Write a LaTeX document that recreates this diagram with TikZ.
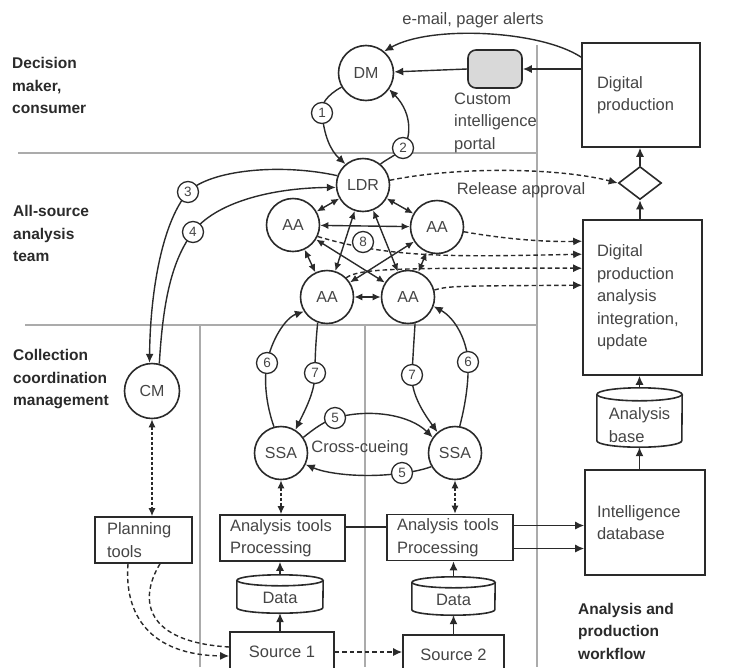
\documentclass[tikz,border=0pt]{standalone}
\usepackage{fontspec}
\setmainfont{Liberation Sans}
\usetikzlibrary{arrows.meta,shapes.geometric,calc}
\definecolor{ink}{HTML}{2A2A2A}
\definecolor{txt}{HTML}{454545}
\definecolor{sepc}{HTML}{ABABAB}
\definecolor{portalc}{HTML}{D9D9D9}
\pgfdeclarelayer{bg}
\pgfsetlayers{bg,main}
\newcommand{\mycyl}[6]{%
  \node[minimum width=#4pt, minimum height=#5pt, inner sep=0pt] (#1) at (#2,#3) {};
  \draw[cylline] ($(#1.north west)+(0,#6)$) -- ($(#1.south west)+(0,-#6)$)
     arc[start angle=180,end angle=0,x radius=#4/2,y radius=#6] -- ($(#1.north east)+(0,#6)$);
  \draw[cylline] ($(#1.north)+(0,#6)$) ellipse[x radius=#4/2, y radius=#6];
}
\begin{document}
\begin{tikzpicture}[x=1pt,y=-1pt,
  every node/.style={text=txt},
  big/.style={circle,draw=ink,fill=white,line width=1.6pt,minimum size=53pt,inner sep=0pt,font=\fontsize{16}{18}\selectfont},
  num/.style={circle,draw=ink,fill=white,line width=1.3pt,minimum size=21pt,inner sep=0pt,font=\fontsize{13.5}{15}\selectfont},
  boxn/.style={draw=ink,fill=white,line width=1.6pt,inner ysep=0pt,align=left,font=\fontsize{16.5}{22.5}\selectfont},
  txtn/.style={inner sep=0pt,align=left,font=\fontsize{16.5}{22.5}\selectfont},
  lbl/.style={anchor=west,inner sep=0pt,align=left,text=ink,font=\fontsize{15.5}{22.5}\selectfont\bfseries},
  cylline/.style={draw=ink,line width=1.6pt},
  sepline/.style={draw=sepc,line width=2.2pt},
  arr/.style={draw=ink,line width=1.4pt,-{Latex[length=9pt,width=8pt]}},
  darr/.style={draw=ink,line width=1.4pt,{Latex[length=8pt,width=7pt]}-{Latex[length=8pt,width=7pt]}},
  dsh/.style={dash pattern=on 4.5pt off 3pt},
  ddarr/.style={draw=ink,line width=1.3pt,dash pattern=on 3pt off 2pt,{Latex[length=8pt,width=7pt]}-{Latex[length=8pt,width=7pt]}}
]
\useasboundingbox (0,0) rectangle (730,667);
\clip (0,0) rectangle (730,667);

% left labels
\node[lbl] (Lb1) at (12,85.5) {Decision\\maker,\\consumer};
\node[lbl] (Lb2) at (13,233.5) {All-source\\analysis\\team};
\node[lbl] (Lb3) at (13,379.5) {Collection\\coordination\\management};
\node[lbl] (Lb4) at (578,631) {Analysis and\\production\\workflow};

% circles
\node[big,minimum size=55pt] (DM) at (366,73) {DM};
\node[big] (LDR) at (363,185) {LDR};
\node[big] (TL) at (293,225) {AA};
\node[big] (TR) at (437,227) {AA};
\node[big] (BL) at (327,297) {AA};
\node[big] (BR) at (408,297) {AA};
\node[big,minimum size=55pt] (CM) at (152,391) {CM};
\node[big] (SSAL) at (281,453) {SSA};
\node[big] (SSAR) at (455,453) {SSA};

% number circles
\node[num] (n1) at (322,113) {1};
\node[num] (n2) at (403,148) {2};
\node[num] (n3) at (188,192) {3};
\node[num] (n4) at (193,232) {4};
\node[num] (n5a) at (335,418) {5};
\node[num] (n5b) at (402,473) {5};
\node[num] (n6a) at (267,363) {6};
\node[num] (n6b) at (468,362) {6};
\node[num] (n7a) at (315,373) {7};
\node[num] (n7b) at (412,375) {7};
\node[num] (n8) at (363,242) {8};

% boxes
\node[boxn, text width=88pt, inner xsep=15pt, minimum height=104pt] (DP) at (641,95) {Digital\\production};
\node[boxn, text width=91pt, inner xsep=14pt, minimum height=155pt] (DPA) at (642.5,297.5) {Digital\\production\\analysis\\integration,\\update};
\node[boxn, text width=96pt, inner xsep=12pt, minimum height=105pt] (IDB) at (645,522.5) {Intelligence\\database};
\node[boxn, text width=105pt, inner xsep=10pt, minimum height=46pt] (AT1) at (282.5,538) {Analysis tools\\Processing};
\node[boxn, text width=106pt, inner xsep=10pt, minimum height=46pt] (AT2) at (450,537.5) {Analysis tools\\Processing};
\node[boxn, text width=73pt, inner xsep=12pt, minimum height=46pt] (PT) at (143.5,540) {Planning\\tools};
\node[boxn, minimum width=104pt, minimum height=40pt] (S1) at (282,652) {Source 1};
\node[boxn, minimum width=101pt, minimum height=40pt] (S2) at (453.5,655) {Source 2};
\node[draw=ink,fill=portalc,line width=1.6pt,rounded corners=8pt,minimum width=54pt,minimum height=38pt,inner sep=0pt] (P) at (495,69) {};
\node[diamond,draw=ink,fill=white,line width=1.6pt,minimum width=43pt,minimum height=33pt,inner sep=0pt] (D) at (640,183) {};

% cylinders
\mycyl{AB}{639.5}{417.5}{85}{59}{6.5}
\node[txtn] (ABt) at (639.5,425) {Analysis\\base};
\mycyl{D1}{280}{594}{86}{38}{5.5}
\node[txtn] (D1t) at (280,598) {Data};
\mycyl{D2}{453.5}{596}{83}{38}{5.5}
\node[txtn] (D2t) at (453.5,600) {Data};

% free texts
\node[txtn] (em) at (473,20) {e-mail, pager alerts};
\node[txtn] (ra) at (521,190) {Release approval};
\node[txtn] (cc) at (360,448) {Cross-cueing};
\node[txtn,anchor=west] (cip) at (454,122.5) {Custom\\intelligence\\portal};

\begin{pgfonlayer}{bg}
% separators
\draw[sepline] (18,153) -- (537,153);
\draw[sepline] (25,325) -- (537,325);
\draw[sepline] (537,45) -- (537,667);
\draw[sepline] (200,325) -- (200,667);
\draw[sepline] (365,325) -- (365,667);

% top
\draw[arr] ([yshift=-15pt]DP.north west) .. controls (540,30) and (430,25) .. (DM.50);
\draw[arr] (P.east -| DP.west) -- (P.east);
\draw[arr] (P.west) -- (DM);
\draw[arr] (DM.210) .. controls (327,95) and (320,105) .. (n1.center) .. controls (324,135) and (330,150) .. (LDR.130);
\draw[arr] (LDR.50) .. controls (385,160) and (397,155) .. (n2.center) .. controls (410,140) and (414,115) .. (DM.-35);
\draw[arr] (LDR.160) .. controls (280,163) and (210,170) .. (n3.center) .. controls (160,225) and (150,300) .. (CM.95);
\draw[arr] (CM.75) .. controls (163,300) and (172,260) .. (n4.center) .. controls (215,203) and (270,188) .. (LDR.185);
\draw[arr,dsh] (LDR.10) .. controls (460,166) and (560,168) .. (D.west);
\draw[arr] (D.south |- DPA.north) -- (D.south);
\draw[arr] (D.north) -- (D.north |- DP.south);

% cluster
\foreach \a/\b in {LDR/TL, LDR/TR, TL/TR, TL/BL, TR/BR, BL/BR, LDR/BL, LDR/BR, TL/BR, TR/BL}
  \draw[darr] (\a) -- (\b);

% dashed to DPA
\draw[arr,dsh] (TR.-10) .. controls (510,240) and (550,242) .. ([yshift=-22pt]DPA.north west);
\draw[arr,dsh] (TL.-25) .. controls (390,258) and (450,257) .. ([yshift=-35pt]DPA.north west);
\draw[arr,dsh] (BL.45) .. controls (360,268) and (400,268) .. ([yshift=-49pt]DPA.north west);
\draw[arr,dsh] (BR.15) .. controls (450,286) .. ([yshift=-66pt]DPA.north west);

% 6 / 7
\draw[arr] (SSAL.105) .. controls (268,410) and (263,385) .. (n6a.center) .. controls (271,341) and (285,318) .. (BL.212);
\draw[arr] (BL.-110) .. controls (316,340) and (315,355) .. (n7a.center) .. controls (315,392) and (305,410) .. (SSAL.58);
\draw[arr] (BR.-75) .. controls (414,340) and (413,355) .. (n7b.center) .. controls (411,395) and (425,415) .. (SSAR.130);
\draw[arr] (SSAR.80) .. controls (464,410) and (469,385) .. (n6b.center) .. controls (467,340) and (455,318) .. (BR.-20);

% 5 cross-cueing
\draw[arr] (SSAL.35) .. controls (315,428) and (325,421) .. (n5a.center) .. controls (370,408) and (410,415) .. (SSAR.145);
\draw[arr] (SSAR.-150) .. controls (422,470) and (412,472) .. (n5b.center) .. controls (370,478) and (330,475) .. (SSAL.-25);

% lower part
\draw[ddarr] (CM.south) -- (CM.south |- PT.north);
\draw[ddarr] (SSAL.south) -- (SSAL.south |- AT1.north);
\draw[ddarr] (SSAR.south) -- (SSAR.south |- AT2.north);
\draw[arr] (D1.north) -- (D1.north |- AT1.south);
\draw[arr] (D1.south |- S1.north) -- (D1.south);
\draw[arr] (D2.north) -- (D2.north |- AT2.south);
\draw[arr] (D2.south |- S2.north) -- (D2.south);
\draw[draw=ink,line width=1.4pt] ([yshift=11pt]AT1.east) -- ([yshift=11pt]AT1.east -| AT2.west);
\draw[arr] ([yshift=12pt]AT2.east) -- ([yshift=12pt]AT2.east -| IDB.west);
\draw[arr] ([yshift=-11pt]AT2.east) -- ([yshift=-11pt]AT2.east -| IDB.west);
\draw[arr] (AB.south |- IDB.north) -- (AB.south);
\draw[arr] (AB.north) -- (AB.north |- DPA.south);
\draw[arr,dsh] (S1.east) -- (S1.east -| S2.west);
\draw[arr,dsh] ([xshift=-15.5pt]PT.south) .. controls (124,615) and (150,655) .. ([yshift=-4pt]S1.west);
\draw[draw=ink,line width=1.4pt,dsh] ([xshift=16.5pt]PT.south) .. controls (138,600) and (145,642) .. ([yshift=5pt]S1.west);
\end{pgfonlayer}
\end{tikzpicture}
\end{document}
